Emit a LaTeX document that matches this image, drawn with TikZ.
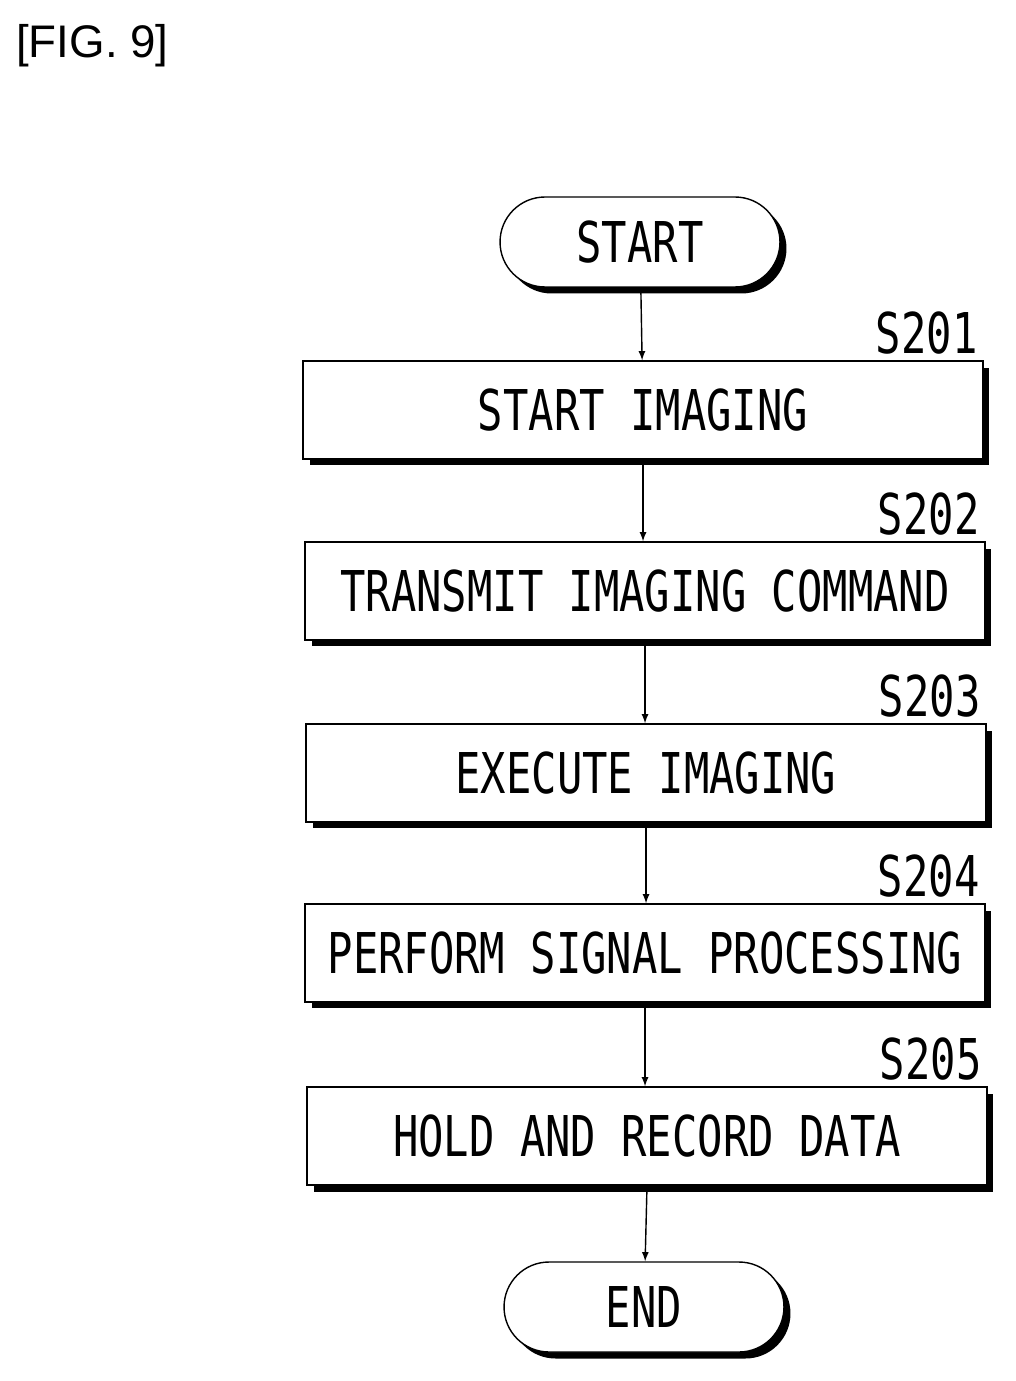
\documentclass[tikz,border=0pt]{standalone}
\usepackage{fontspec}
\setmainfont{Liberation Sans}
\newfontfamily\flowfont[FakeStretch=0.75]{DejaVu Sans Mono}
\usetikzlibrary{shadows,positioning}
\begin{document}
\begin{tikzpicture}[x=0.02cm, y=-0.02cm,
    stepbox/.style = {draw, thick, fill=white, minimum width=13.6cm, minimum height=1.96cm,
        font=\flowfont\fontsize{32}{36}\selectfont,
        drop shadow={shadow xshift=0.13cm, shadow yshift=-0.13cm, fill=black, opacity=1}},
    term/.style = {draw, thick, fill=white, rounded corners=0.9cm, minimum width=5.6cm, minimum height=1.8cm,
        font=\flowfont\fontsize{32}{36}\selectfont,
        drop shadow={shadow xshift=0.13cm, shadow yshift=-0.13cm, fill=black, opacity=1}},
    steplabel/.style = {font=\flowfont\fontsize{32}{36}\selectfont, anchor=south east}]
    \useasboundingbox (0,0) rectangle (1015,1381);
    \node[anchor=north west, font=\fontsize{26}{30}\selectfont] (fig) at (10,18) {[FIG. 9]};

    \node[term] (start) at (640,242) {START};
    \node[stepbox] (s1) at (643,410) {START IMAGING};
    \node[stepbox] (s2) at (645,591) {TRANSMIT IMAGING COMMAND};
    \node[stepbox] (s3) at (646,773) {EXECUTE IMAGING};
    \node[stepbox] (s4) at (645,953) {PERFORM SIGNAL PROCESSING};
    \node[stepbox] (s5) at (647,1136) {HOLD AND RECORD DATA};
    \node[term] (end) at (644,1307) {END};

    % numeri dei passi
    \node[steplabel] (l1) at (s1.north east) {S201};
    \node[steplabel] (l2) at (s2.north east) {S202};
    \node[steplabel] (l3) at (s3.north east) {S203};
    \node[steplabel] (l4) at (s4.north east) {S204};
    \node[steplabel] (l5) at (s5.north east) {S205};

    % frecce
    \draw[->, thick, >=latex] (start) -- (s1);
    \draw[->, thick, >=latex] (s1) -- (s1 |- s2.north);
    \draw[->, thick, >=latex] (s2) -- (s2 |- s3.north);
    \draw[->, thick, >=latex] (s3) -- (s3 |- s4.north);
    \draw[->, thick, >=latex] (s4) -- (s4 |- s5.north);
    \draw[->, thick, >=latex] (s5 |- s5.south) -- (end);
\end{tikzpicture}
\end{document}
